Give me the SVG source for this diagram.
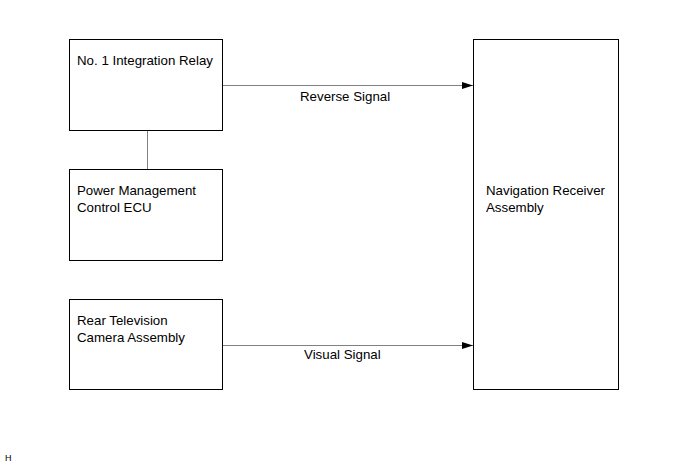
<svg xmlns="http://www.w3.org/2000/svg" width="691" height="465" viewBox="0 0 691 465">
<style>
.box{fill:#fff;stroke:#000;stroke-width:1}
.t{font-family:"Liberation Sans",Arial,sans-serif;font-size:13.3px;fill:#000}
.c{stroke:#808080;stroke-width:1;fill:none}
</style>
<defs>
<marker id="ah" markerWidth="11" markerHeight="7" refX="11" refY="3.5" orient="auto" markerUnits="userSpaceOnUse">
<path d="M0,0 L11,3.5 L0,7 z" fill="#000"/>
</marker>
</defs>
<rect width="691" height="465" fill="#fff"/>
<g id="connectors">
<line class="c" x1="147.5" y1="130" x2="147.5" y2="169"/>
<line class="c" x1="222" y1="85.5" x2="473" y2="85.5" marker-end="url(#ah)"/>
<line class="c" x1="222" y1="345.5" x2="473" y2="345.5" marker-end="url(#ah)"/>
<text class="t" x="300" y="101">Reverse Signal</text>
<text class="t" x="304" y="359">Visual Signal</text>
</g>
<g id="relay">
<rect class="box" x="69.5" y="39.5" width="153" height="91"/>
<text class="t" x="77" y="65">No. 1 Integration Relay</text>
</g>
<g id="pmecu">
<rect class="box" x="69.5" y="169.5" width="153" height="91"/>
<text class="t" x="77" y="195">Power Management</text>
<text class="t" x="77" y="212">Control ECU</text>
</g>
<g id="camera">
<rect class="box" x="69.5" y="299.5" width="153" height="90"/>
<text class="t" x="77" y="325">Rear Television</text>
<text class="t" x="77" y="342">Camera Assembly</text>
</g>
<g id="nav">
<rect class="box" x="473.5" y="39.5" width="145" height="350"/>
<text class="t" x="486" y="195">Navigation Receiver</text>
<text class="t" x="486" y="212">Assembly</text>
</g>
<text x="5" y="461" fill="#000" style="font-family:'Liberation Sans',Arial,sans-serif;font-size:9px">H</text>
</svg>
